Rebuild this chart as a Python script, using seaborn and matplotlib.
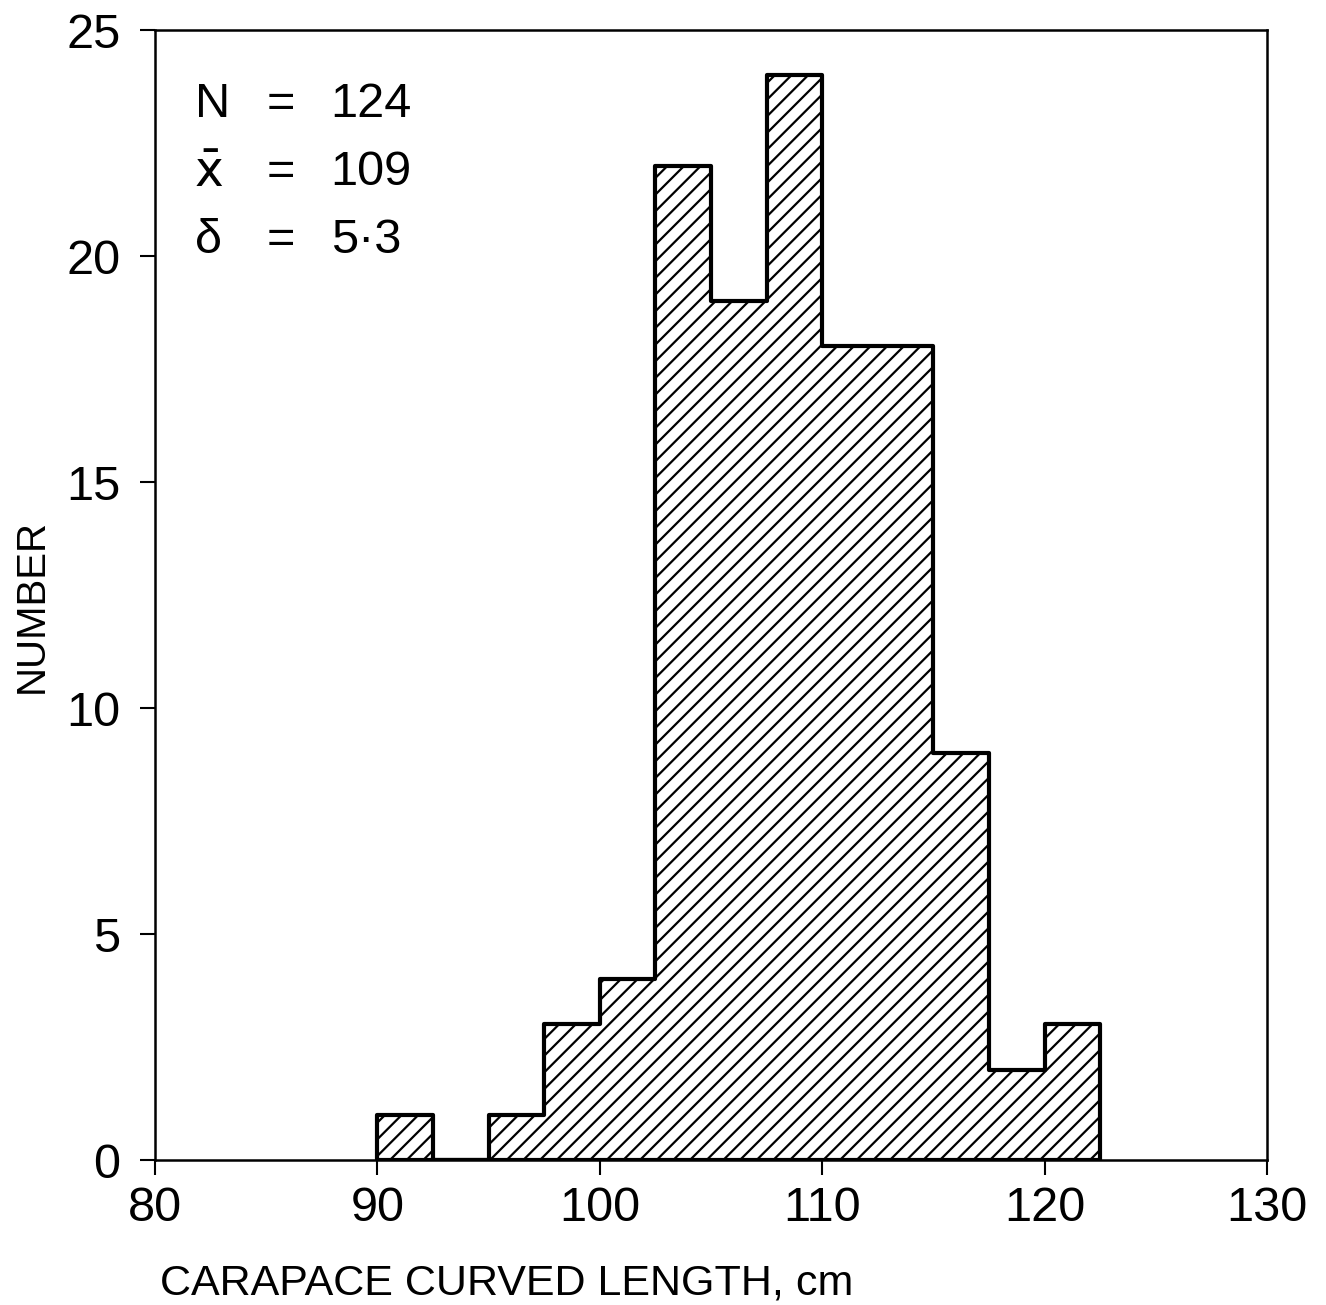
import numpy as np
import pandas as pd
import seaborn as sns
import matplotlib.pyplot as plt

# histogram (bin width 2.5 cm)
bin_left = [90, 92.5, 95, 97.5, 100, 102.5, 105, 107.5, 110, 112.5, 115, 117.5, 120]
counts = [1, 0, 1, 3, 4, 22, 19, 24, 18, 18, 9, 2, 3]
bin_edges = bin_left + [122.5]
x_ticks = [80, 90, 100, 110, 120, 130]
y_ticks = [0, 5, 10, 15, 20, 25]
stats_names = ["N", "x\u0304", "\u03b4"]
stats_values = ["124", "109", "5\u00b73"]

sns.set_style("ticks")
plt.rcParams["font.family"] = ["Liberation Sans", "DejaVu Sans"]
plt.rcParams["text.color"] = "black"
plt.rcParams["axes.labelcolor"] = "black"
plt.rcParams["hatch.color"] = "black"
plt.rcParams["hatch.linewidth"] = 1.6

df = pd.DataFrame({"length": bin_left, "count": counts})

fig = plt.figure(figsize=(13.26, 13.05), dpi=100)
ax = fig.add_axes([0.1169, 0.1111, 0.8386, 0.8659])
sns.histplot(data=df, x="length", weights="count", bins=bin_edges, element="step",
             fill=True, color="white", edgecolor="black", linewidth=3, alpha=1, ax=ax)
for c in ax.collections:
    c.set_hatch("//")
    c.set_facecolor("white")
    c.set_edgecolor("black")

ax.set_xlim(80, 130)
ax.set_ylim(0, 25)
ax.set_xticks(x_ticks)
ax.set_yticks(y_ticks)
ax.tick_params(direction="out", length=11, width=1.5, labelsize=35, colors="black")
ax.tick_params(axis="y", pad=14)
ax.tick_params(axis="x", pad=8)
for s in ax.spines.values():
    s.set_visible(True)
    s.set_linewidth(1.8)
    s.set_color("black")
ax.set_xlabel("")
ax.set_ylabel("")
fig.text(0.1207, 0.0077, "CARAPACE CURVED LENGTH, cm", fontsize=31, ha="left", va="baseline")
fig.text(0.0241, 0.536, "NUMBER", fontsize=29, rotation=90, ha="center", va="center")

for i, (nm, val) in enumerate(zip(stats_names, stats_values)):
    y = 23.35 - i * 1.5
    ax.text(81.8, y, nm, fontsize=35, va="center",
            family=["DejaVu Sans"] if i == 1 else None)
    ax.text(85.0, y, "=", fontsize=35, va="center")
    ax.text(87.9, y, val, fontsize=35, va="center")

fig.savefig("out.png", dpi=100, facecolor="white")
